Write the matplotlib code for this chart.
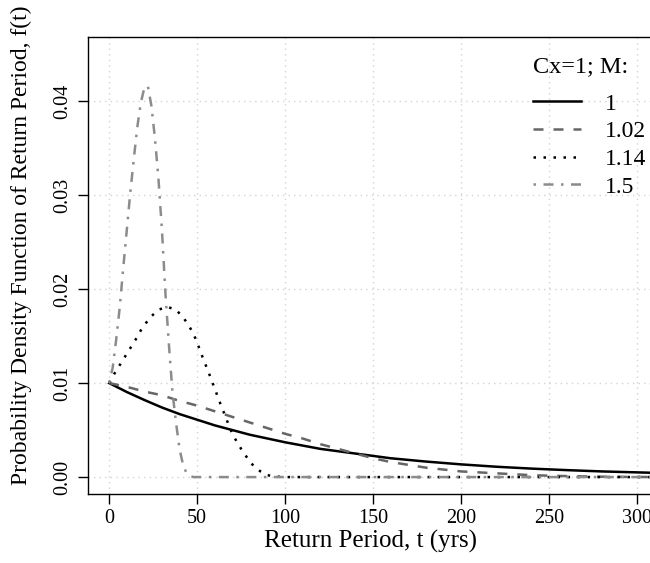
import numpy as np
import matplotlib.pyplot as plt

# return period (yrs) and density values
t_m100 = [0, 10, 20, 30, 40, 50, 60, 70, 80, 90, 100, 120, 140, 160, 180, 200,
          220, 240, 260, 280, 300, 312]
f_m100 = [0.0100, 0.00905, 0.0082, 0.0074, 0.0067, 0.0061, 0.0055, 0.0050, 0.0045,
          0.0041, 0.0037, 0.0030, 0.0025, 0.0020, 0.00165, 0.00135, 0.0011, 0.0009,
          0.00074, 0.0006, 0.0005, 0.00044]

t_m102 = [0, 10, 20, 30, 40, 50, 60, 70, 80, 90, 100, 110, 120, 130, 140, 150, 160,
          170, 180, 190, 200, 220, 240, 260, 280, 300, 312]
f_m102 = [0.0100, 0.0096, 0.0091, 0.0087, 0.0081, 0.0076, 0.0070, 0.0064, 0.0058,
          0.0052, 0.0046, 0.0041, 0.0035, 0.0030, 0.0025, 0.0020, 0.0016, 0.0013,
          0.0010, 0.0008, 0.0006, 0.0004, 0.0002, 0.0001, 0.00004, 0.00001, 0.0]

t_m114 = [0, 3, 6, 9, 12, 15, 18, 21, 24, 28, 33, 38, 42, 45, 48, 50, 52, 54, 56, 58,
          60, 62, 64, 66, 68, 70, 73, 76, 79, 82, 86, 90, 95, 100, 150, 200, 250, 312]
f_m114 = [0.0100, 0.0110, 0.0119, 0.0128, 0.0137, 0.0146, 0.0156, 0.0164, 0.0171,
          0.0178, 0.0181, 0.0178, 0.0170, 0.0162, 0.0152, 0.0143, 0.0133, 0.0123,
          0.0114, 0.0104, 0.0094, 0.0084, 0.0074, 0.0065, 0.0055, 0.0046, 0.0036,
          0.0027, 0.0019, 0.0012, 0.0006, 0.0002, 0.00005, 0.0, 0.0, 0.0, 0.0, 0.0]

t_m150 = [0, 2, 4, 6, 8, 10, 12, 14, 16, 18, 20, 22, 24, 26, 28, 30, 32, 34, 36, 38,
          40, 42, 44, 46, 48, 50, 100, 150, 200, 250, 312]
f_m150 = [0.0100, 0.0116, 0.0146, 0.0180, 0.0222, 0.0262, 0.0302, 0.0338, 0.0372,
          0.0398, 0.0414, 0.0416, 0.0395, 0.0361, 0.0318, 0.0263, 0.0195, 0.0140,
          0.0090, 0.0058, 0.0030, 0.0013, 0.0004, 0.0001, 0.0, 0.0, 0.0, 0.0, 0.0,
          0.0, 0.0]

x_ticks = [0, 50, 100, 150, 200, 250, 300]
y_ticks = [0.00, 0.01, 0.02, 0.03, 0.04]

plt.rcParams['font.family'] = ['Liberation Serif', 'DejaVu Serif']
plt.rcParams['font.size'] = 14.5

W, H = 650, 563
box_l, box_r, box_t, box_b = 88, 653, 37, 494
fig = plt.figure(figsize=(W / 100, H / 100), dpi=100)
ax = fig.add_axes([box_l / W, 1 - box_b / H, (box_r - box_l) / W, (box_b - box_t) / H])

for xv in x_ticks:
    ax.axvline(xv, color='#d3d3d3', linestyle=(0, (1, 3)), lw=1, zorder=0)
for yv in y_ticks:
    ax.axhline(yv, color='#d3d3d3', linestyle=(0, (1, 3)), lw=1, zorder=0)

lw = 1.8
ax.plot(t_m100, f_m100, color='black', lw=lw, label='1')
ax.plot(t_m102, f_m102, color='#666666', lw=lw, linestyle=(0, (4, 4)), label='1.02')
ax.plot(t_m114, f_m114, color='black', lw=lw, linestyle=(0, (1, 3)), label='1.14')
ax.plot(t_m150, f_m150, color='#8c8c8c', lw=lw, linestyle=(0, (1, 3, 4, 3)), label='1.5')

ax.set_xlim(-12, 309)
ax.set_ylim(-0.0018, 0.0468)
ax.set_xticks(x_ticks)
ax.set_yticks(y_ticks)
ax.set_yticklabels(['%.2f' % v for v in y_ticks], rotation=90, va='center')
ax.tick_params(direction='out', length=7, width=1, pad=4)
for s in ax.spines.values():
    s.set_linewidth(1)

fig.text((box_l + box_r) / 2 / W, 1 - 541 / H, 'Return Period, t (yrs)',
         fontsize=18, ha='center', va='center')
fig.text(21 / W, 1 - 245 / H, 'Probability Density Function of Return Period, f(t)',
         fontsize=17, rotation=90, ha='center', va='center')

# legend: title drawn as its own text, entries below it
fig.text(533 / W, 1 - 67 / H, 'Cx=1; M:', fontsize=17.5, ha='left', va='center')
ax.legend(frameon=False, loc='upper left', borderpad=0, borderaxespad=0,
          bbox_to_anchor=(533 / W, 1 - 93 / H), bbox_transform=fig.transFigure,
          fontsize=17, handlelength=2.05, handletextpad=1.0, labelspacing=0.26)

fig.savefig('out.png', dpi=100)
